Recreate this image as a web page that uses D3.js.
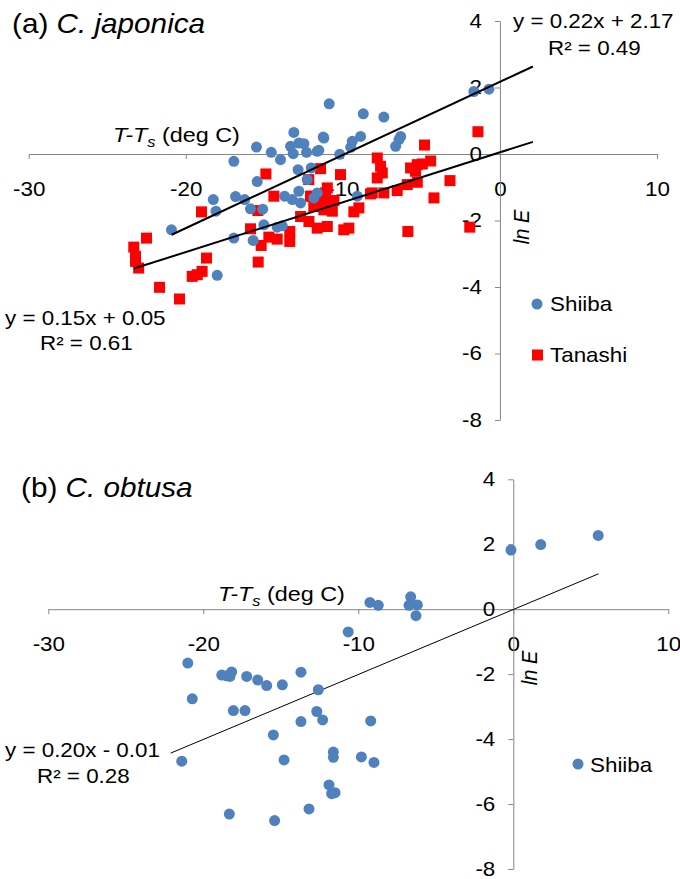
<!DOCTYPE html>
<html>
<head>
<meta charset="utf-8">
<script src="https://cdn.jsdelivr.net/npm/d3@7"></script>
<style>
  body { margin: 0; background: #fff; }
  svg { display: block; font-family: "Liberation Sans", Arial, sans-serif; }
</style>
</head>
<body>
<div id="chart"></div>
<script>
// ---- data ----
const xTicks = [-30, -20, -10, 0, 10];
const yTicks = [-8, -6, -4, -2, 0, 2, 4];

// (a) C. japonica, Shiiba [T-Ts, ln E]
const shiibaA = [
  [-20.91, -2.28], [-18.25, -1.37], [-18.08, -1.72], [-18.0, -3.65], [-16.94, -0.22],
  [-16.83, -1.28], [-16.25, -1.37], [-15.88, -1.65], [-15.1, -1.66], [-15.5, 0.21],
  [-15.45, -0.83], [-16.94, -2.53], [-15.71, -2.6], [-15.03, -2.13], [-14.18, -2.2],
  [-13.86, -2.16], [-14.56, 0.05], [-13.97, -0.17], [-13.33, 0.23], [-13.12, 0.65],
  [-12.8, 0.33], [-12.48, 0.31], [-13.16, 0.01], [-12.31, 0.05], [-11.63, 0.08],
  [-11.25, 0.51], [-10.87, 1.51], [-12.85, -0.47], [-12.01, -0.42], [-12.27, -0.77],
  [-12.8, -1.12], [-13.71, -1.27], [-13.22, -1.37], [-12.69, -1.47], [-11.85, -1.32],
  [-11.63, -1.17], [-9.08, -1.27], [-10.2, -0.01], [-9.5, 0.2], [-9.4, 0.38],
  [-8.87, 0.53], [-8.7, 1.21], [-7.39, 1.11], [-11.21, 0.48], [-11.53, 0.11],
  [-6.32, 0.53], [-6.43, 0.43], [-6.64, 0.23], [-1.66, 1.88], [-0.7, 1.95]
];

// (a) C. japonica, Tanashi
const tanashiA = [
  [-23.31, -2.8], [-23.2, -3.08], [-23.2, -3.23], [-23.0, -3.43], [-22.5, -2.53],
  [-21.67, -4.01], [-20.4, -4.36], [-19.59, -3.68], [-19.27, -3.63], [-18.96, -3.53],
  [-18.68, -3.13], [-19.0, -1.74], [-15.39, -3.25], [-15.2, -2.75], [-15.88, -2.25],
  [-15.41, -1.7], [-14.9, -0.6], [-14.39, -1.27], [-14.71, -2.5], [-14.18, -2.56],
  [-13.38, -2.33], [-13.38, -2.63], [-12.17, -0.77], [-11.42, -0.44], [-12.69, -1.88],
  [-12.16, -2.03], [-11.63, -2.23], [-10.99, -2.18], [-12.06, -1.27], [-11.85, -1.58],
  [-11.21, -1.68], [-10.78, -1.58], [-10.57, -1.4], [-10.99, -1.02], [-10.15, -0.62],
  [-9.3, -1.74], [-9.62, -2.23], [-8.98, -1.62], [-8.24, -1.2], [-7.81, -0.12],
  [-7.6, -0.37], [-7.81, -0.72], [-7.49, -0.57], [-7.39, -1.17], [-6.54, -1.1],
  [-5.9, -0.92], [-5.69, -0.42], [-5.26, -0.32], [-5.86, -2.33], [-4.8, 0.27],
  [-4.41, -0.21], [-4.94, -0.3], [-3.18, -0.8], [-4.2, -1.32], [-1.4, 0.67],
  [-1.92, -2.2], [-5.37, -0.52], [-5.26, -0.85], [-8.13, -1.17], [-9.94, -2.28],
  [-10.67, -1.72], [-11.95, -1.27], [-11.74, -1.37], [-11.1, -1.17], [-11.1, -1.37]
];

// (b) C. obtusa, Shiiba
const shiibaB = [
  [-0.15, 1.82], [1.77, 1.99], [5.48, 2.27], [-9.25, 0.21], [-8.71, 0.12],
  [-6.62, 0.38], [-6.73, 0.12], [-6.19, 0.13], [-6.28, -0.2], [-10.65, -0.7],
  [-21.0, -1.66], [-20.71, -2.76], [-21.39, -4.68], [-18.81, -2.03], [-18.49, -2.05],
  [-18.17, -1.93], [-18.28, -2.07], [-18.06, -3.12], [-17.31, -3.12], [-17.2, -2.07],
  [-16.49, -2.18], [-15.91, -2.35], [-14.9, -2.33], [-13.7, -1.94], [-12.58, -2.48],
  [-12.68, -3.15], [-12.3, -3.41], [-13.7, -3.46], [-15.48, -3.87], [-14.79, -4.64],
  [-11.61, -4.4], [-11.61, -4.56], [-11.89, -5.41], [-11.72, -5.68], [-11.5, -5.65],
  [-13.18, -6.15], [-18.32, -6.31], [-15.4, -6.51], [-9.2, -3.44], [-9.8, -4.55],
  [-8.99, -4.72]
];

// linear fits: slope, intercept, x range of drawn line
const fitShiibaA = { slope: 0.22, intercept: 2.17, from: -20.9, to: 2.1 };
const fitTanashiA = { slope: 0.15, intercept: 0.05, from: -23.3, to: 2.1 };
const fitShiibaB = { slope: 0.20, intercept: -0.01, from: -22.1, to: 5.5 };

// ---- drawing ----
const width = 680;
const height = 879;
const SX = 1.12; // the original text is a little wider than Arial
const axisColor = "#868686";
const blue = "#4f81bd";
const red = "#ff0000";

const svg = d3
  .select("#chart")
  .append("svg")
  .attr("width", width)
  .attr("height", height);

function addText(g, x, y, str, opts = {}) {
  const t = g
    .append("text")
    .attr("transform", `translate(${x},${y}) scale(${opts.sx || SX},1)`)
    .attr("text-anchor", opts.anchor || "start")
    .style("font-size", (opts.size || 20) + "px")
    .style("fill", "#000");
  if (opts.italic) t.style("font-style", "italic");
  t.text(str);
  return t;
}

function xTitle(g, x, y) {
  const t = g
    .append("text")
    .attr("transform", `translate(${x},${y}) scale(1.17,1)`)
    .style("font-size", "20px");
  t.append("tspan").style("font-style", "italic").text("T-T");
  t.append("tspan")
    .style("font-style", "italic")
    .style("font-size", "14px")
    .attr("dy", 5)
    .text("s");
  t.append("tspan").attr("dy", -5).text(" (deg C)");
}

function drawAxes(g, x, y) {
  // plain hyphen for negatives, as in the original
  const fmt = (d) => String(d);
  const xAxis = d3
    .axisBottom(x)
    .tickValues(xTicks)
    .tickFormat(fmt)
    .tickSize(5)
    .tickSizeOuter(0)
    .tickPadding(23);
  const xg = g.append("g").attr("transform", `translate(0,${y(0)})`).call(xAxis);

  const yAxis = d3
    .axisLeft(y)
    .tickValues(yTicks)
    .tickFormat(fmt)
    .tickSize(5)
    .tickSizeOuter(0)
    .tickPadding(0);
  const yg = g.append("g").attr("transform", `translate(${x(0)},0)`).call(yAxis);

  [xg, yg].forEach((a) => {
    a.select(".domain").attr("stroke", axisColor);
    a.selectAll(".tick line").attr("stroke", axisColor);
    a.selectAll(".tick text")
      .style("font-size", "20px")
      .style("font-family", "Liberation Sans, Arial, sans-serif")
      .attr("fill", "#000");
  });
  xg.selectAll(".tick text").attr("transform", `scale(${SX},1)`);
  yg.selectAll(".tick text")
    .attr("x", 0)
    .attr("transform", `translate(-18,0) scale(${SX},1)`);
}

function drawFit(g, x, y, fit, w) {
  g.append("line")
    .attr("x1", x(fit.from))
    .attr("y1", y(fit.slope * fit.from + fit.intercept))
    .attr("x2", x(fit.to))
    .attr("y2", y(fit.slope * fit.to + fit.intercept))
    .attr("stroke", "#000")
    .attr("stroke-width", w);
}

function drawCircles(g, x, y, data) {
  g.selectAll(null)
    .data(data)
    .enter()
    .append("circle")
    .attr("cx", (d) => x(d[0]))
    .attr("cy", (d) => y(d[1]))
    .attr("r", 5.5)
    .attr("fill", blue);
}

function drawSquares(g, x, y, data) {
  const s = 11;
  g.selectAll(null)
    .data(data)
    .enter()
    .append("rect")
    .attr("x", (d) => x(d[0]) - s / 2)
    .attr("y", (d) => y(d[1]) - s / 2)
    .attr("width", s)
    .attr("height", s)
    .attr("fill", red);
}

// panel (a)
const xA = d3.scaleLinear().domain([-30, 10]).range([28.7, 657]);
const yA = d3.scaleLinear().domain([-8, 4]).range([420, 21]);
const gA = svg.append("g");
drawAxes(gA, xA, yA);
drawSquares(gA, xA, yA, tanashiA);
drawCircles(gA, xA, yA, shiibaA);
drawFit(gA, xA, yA, fitShiibaA, 2);
drawFit(gA, xA, yA, fitTanashiA, 2);

const titleA = gA
  .append("text")
  .attr("transform", "translate(12,33) scale(1.1,1)")
  .style("font-size", "27px");
titleA.append("tspan").text("(a) ");
titleA.append("tspan").style("font-style", "italic").text("C. japonica");

xTitle(gA, 113, 142);
addText(gA, 0, 0, "ln E", { italic: true })
  .attr("transform", `translate(529,227) rotate(-90) scale(1,${SX})`)
  .attr("text-anchor", "middle");
addText(gA, 513, 28, "y = 0.22x + 2.17");
addText(gA, 548, 55, "R² = 0.49");
addText(gA, 5, 325, "y = 0.15x + 0.05");
addText(gA, 40, 350, "R² = 0.61");

// legend (a)
gA.append("circle").attr("cx", 537).attr("cy", 304).attr("r", 5.5).attr("fill", blue);
addText(gA, 550, 311, "Shiiba");
gA.append("rect").attr("x", 532).attr("y", 349.5).attr("width", 11).attr("height", 11).attr("fill", red);
addText(gA, 550, 362, "Tanashi");

// panel (b)
const xB = d3.scaleLinear().domain([-30, 10]).range([48.3, 668.3]);
const yB = d3.scaleLinear().domain([-8, 4]).range([869, 479.3]);
const gB = svg.append("g");
drawAxes(gB, xB, yB);
drawFit(gB, xB, yB, fitShiibaB, 1);
drawCircles(gB, xB, yB, shiibaB);

const titleB = gB
  .append("text")
  .attr("transform", "translate(21,497) scale(1.1,1)")
  .style("font-size", "27px");
titleB.append("tspan").text("(b) ");
titleB.append("tspan").style("font-style", "italic").text("C. obtusa");

xTitle(gB, 218, 601);
addText(gB, 0, 0, "ln E", { italic: true })
  .attr("transform", `translate(537,668) rotate(-90) scale(1,${SX})`)
  .attr("text-anchor", "middle");
addText(gB, 5, 757, "y = 0.20x - 0.01");
addText(gB, 37, 783, "R² = 0.28");

gB.append("circle").attr("cx", 578).attr("cy", 764).attr("r", 5.5).attr("fill", blue);
addText(gB, 590, 772, "Shiiba");
</script>
</body>
</html>
